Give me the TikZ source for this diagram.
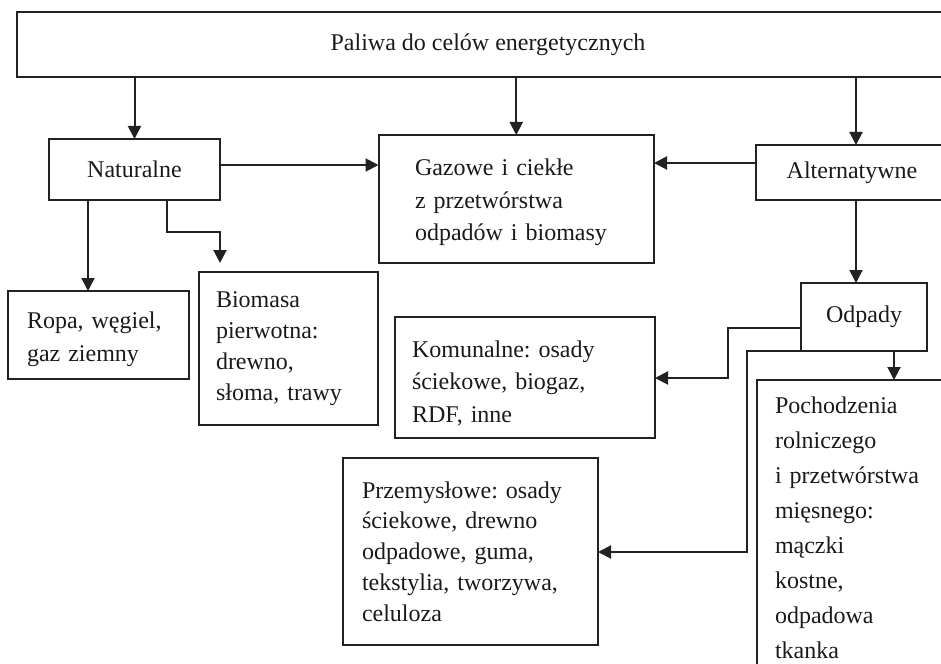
\documentclass[tikz,border=0pt]{standalone}
\usepackage{fontspec}
\setmainfont{Liberation Serif}
\usetikzlibrary{arrows.meta}
\definecolor{lc}{HTML}{222222}
\definecolor{tc}{HTML}{1A1A1A}
\begin{document}
\frenchspacing
\begin{tikzpicture}[x=0.5pt,y=-0.5pt,
  every node/.style={font=\fontsize{12}{16}\selectfont, text=tc},
  box/.style={draw=lc, line width=1pt, inner sep=0pt, outer sep=0pt, anchor=north west},
  lbox/.style={box, align=left},
  conn/.style={draw=lc, line width=1pt},
  arr/.style={conn, -{Triangle[length=6.5pt,width=6.5pt]}}]
\useasboundingbox (0,0) rectangle (941,663);
\begin{scope}
\clip (0,0) rectangle (941,663);
% boxes
\node[box, minimum width=471pt, minimum height=32.5pt] (top) at (17,12) {Paliwa do celów energetycznych};
\node[box, minimum width=85.5pt, minimum height=30.5pt] (nat) at (49,139) {Naturalne};
\node[lbox, inner xsep=18.25pt, text width=101.25pt, minimum height=64pt,
      font=\fontsize{12}{16.25}\selectfont] (gaz) at (378.5,135)
      {\rule{0pt}{11.7pt}Gazowe i ciekłe\\z przetwórstwa\\odpadów i biomasy};
\node[box, minimum width=96pt, minimum height=27.5pt] (alt) at (756,145) {Alternatywne};
\node[lbox, inner xsep=9.5pt, text width=71.5pt, minimum height=44pt,
      font=\fontsize{12}{16.5}\selectfont] (ropa) at (8,291)
      {\rule{0pt}{12.2pt}Ropa, węgiel,\\gaz ziemny};
\node[lbox, inner xsep=8.5pt, text width=72.5pt, minimum height=76.5pt,
      font=\fontsize{12}{15.5}\selectfont] (bio) at (199,272)
      {Biomasa\\pierwotna:\\drewno,\\słoma, trawy};
\node[box, minimum width=63pt, minimum height=34pt] (odp) at (801,283) {Odpady};
\node[lbox, inner xsep=8.5pt, text width=113pt, minimum height=60.5pt,
      font=\fontsize{12}{16.25}\selectfont] (kom) at (395,317)
      {\rule{0pt}{14pt}Komunalne: osady\\ściekowe, biogaz,\\RDF, inne};
\node[lbox, inner xsep=9.5pt, text width=108.5pt, minimum height=93.5pt,
      font=\fontsize{12}{15.4}\selectfont] (prz) at (343,458)
      {Przemysłowe: osady\\ściekowe, drewno\\odpadowe, guma,\\tekstylia, tworzywa,\\celuloza};
\node[lbox, inner xsep=9pt, text width=91pt, minimum height=147.5pt,
      font=\fontsize{12}{17.5}\selectfont] (poch) at (757,380)
      {Pochodzenia\\rolniczego\\i przetwórstwa\\mięsnego:\\mączki\\kostne,\\odpadowa\\tkanka};
% helper coordinates
\coordinate (xa) at (856,0);
\coordinate (xr) at (88,0);
\coordinate (xb) at (167,0);
\coordinate (bb) at (220,232);
\coordinate (ya) at (0,165);
\coordinate (yb) at (0,163);
\coordinate (yk) at (0,328);
\coordinate (kb) at (728,378);
\coordinate (pb) at (747,552);
\coordinate (xp) at (894,0);
% connectors
\draw[arr] (top.south -| nat.north) -- (nat.north);
\draw[arr] (top.south -| gaz.north) -- (gaz.north);
\draw[arr] (top.south -| xa) -- (alt.north -| xa);
\draw[arr] (nat.east |- ya) -- (gaz.west |- ya);
\draw[arr] (alt.west |- yb) -- (gaz.east |- yb);
\draw[arr] (nat.south -| xr) -- (ropa.north -| xr);
\draw[arr, shorten >=4.5pt] (nat.south -| xb) |- (bb) -- (bio.north -| bb);
\draw[arr] (alt.south -| xa) -- (odp.north -| xa);
\draw[arr] (odp.west |- yk) -| (kb) -- (kom.east |- kb);
\draw[arr] (odp.south west) -| (pb) -- (prz.east |- pb);
\draw[arr] (odp.south -| xp) -- (poch.north -| xp);
\end{scope}
\end{tikzpicture}
\end{document}
